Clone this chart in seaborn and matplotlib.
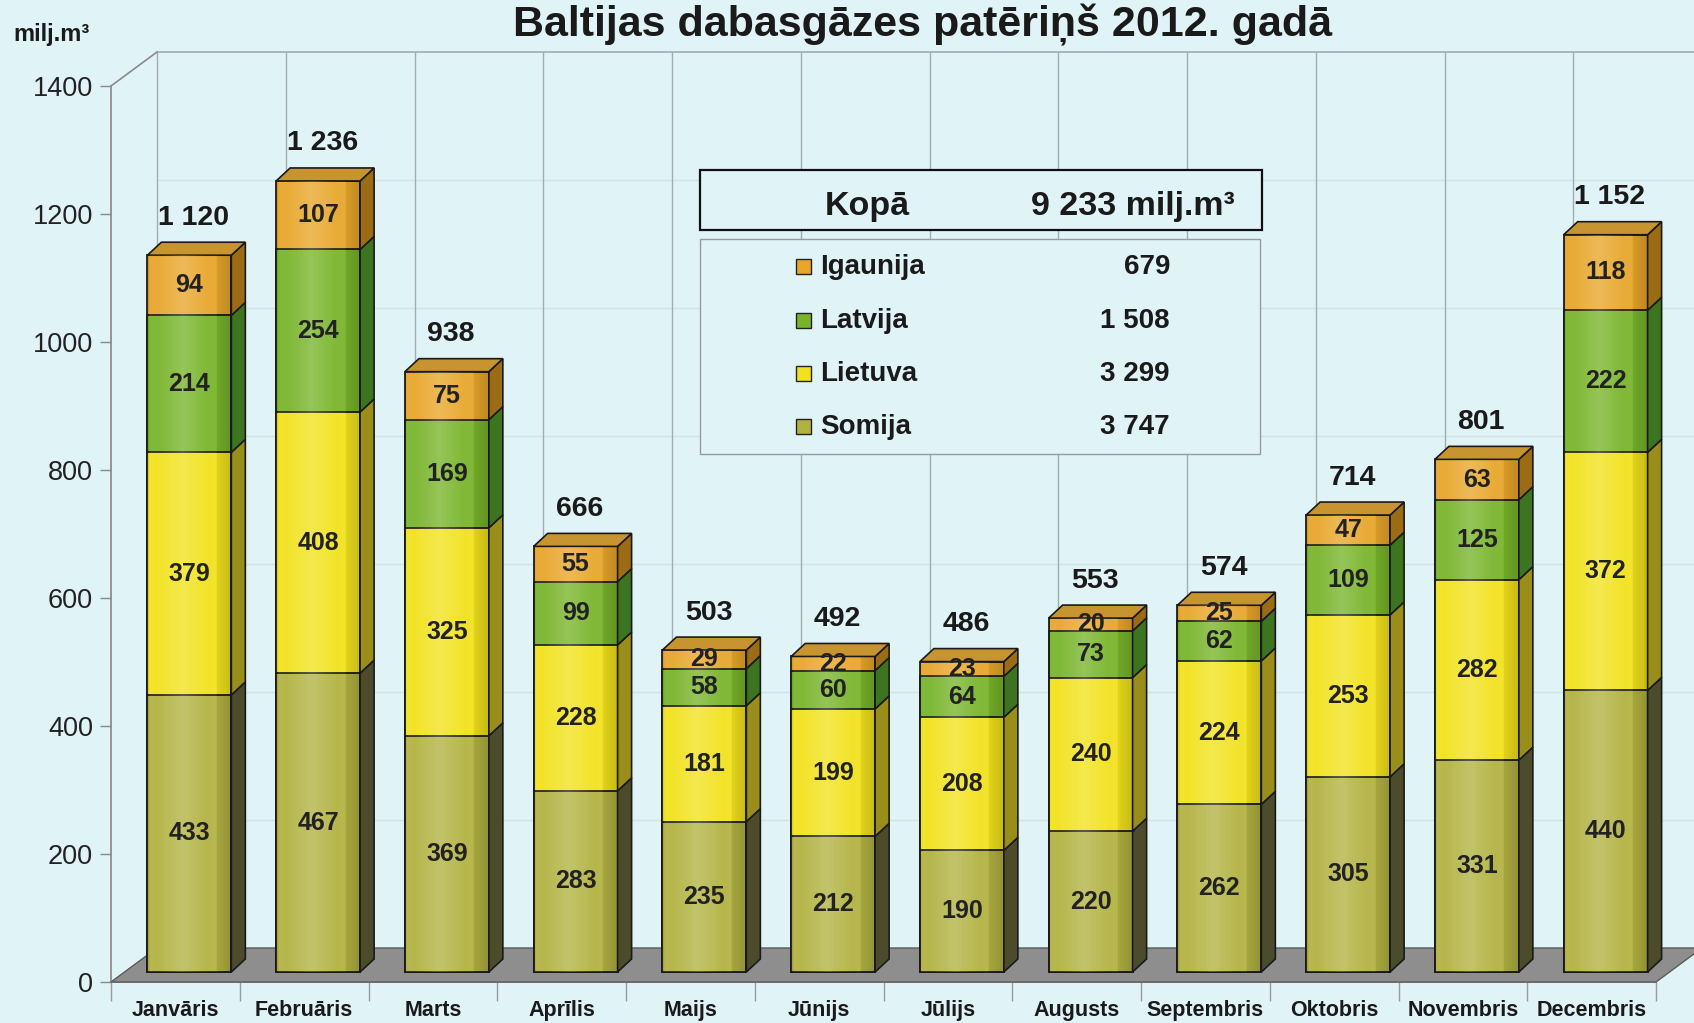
import numpy as np
import pandas as pd
import matplotlib
matplotlib.use("Agg")
import matplotlib.pyplot as plt
import matplotlib.transforms as mtransforms
from matplotlib.patches import Polygon, Rectangle
import seaborn as sns

# ---------------- data ----------------
months = ["Janvāris", "Februāris", "Marts", "Aprīlis", "Maijs", "Jūnijs",
          "Jūlijs", "Augusts", "Septembris", "Oktobris", "Novembris", "Decembris"]
somija = [433, 467, 369, 283, 235, 212, 190, 220, 262, 305, 331, 440]
lietuva = [379, 408, 325, 228, 181, 199, 208, 240, 224, 253, 282, 372]
latvija = [214, 254, 169, 99, 58, 60, 64, 73, 62, 109, 125, 222]
igaunija = [94, 107, 75, 55, 29, 22, 23, 20, 25, 47, 63, 118]
month_totals = [1120, 1236, 938, 666, 503, 492, 486, 553, 574, 714, 801, 1152]
series_names = ["Igaunija", "Latvija", "Lietuva", "Somija"]
series_totals = ["679", "1 508", "3 299", "3 747"]
grand_label = "Kopā"
grand_total = "9 233 milj.m³"
title = "Baltijas dabasgāzes patēriņš 2012. gadā"
unit = "milj.m³"
yticks = [0, 200, 400, 600, 800, 1000, 1200, 1400]

# ---------------- style ----------------
BG = "#E0F3F7"
front = {"Somija": "#B2B242", "Lietuva": "#F2E21C", "Latvija": "#78B42A", "Igaunija": "#E8A62A"}
side = {"Somija": "#4C4C2C", "Lietuva": "#9A8E1A", "Latvija": "#3C7420", "Igaunija": "#9C6C14"}
top_col = "#C89430"
EDGE = "#1a1a1a"

sns.set_theme(style="white")
plt.rcParams["font.family"] = ["Liberation Sans", "DejaVu Sans"]

W, H = 1694, 1023
fig = plt.figure(figsize=(W / 100, H / 100), dpi=100, facecolor=BG)
ax = fig.add_axes([111 / W, (H - 982) / H, (1656 - 111) / W, (982 - 86) / H])
ax.set_facecolor("none")

px_x = 1545 / 12.0     # pixels per category
px_y = 896 / 1400.0    # pixels per unit
bx, by = 46 / px_x, 34 / px_y      # back wall offset (data units)
dx, dy = 14 / px_x, 13 / px_y      # bar depth (data units)
bar_w = 0.652
offset = mtransforms.ScaledTranslation(0.14, 0.10, fig.dpi_scale_trans)
trans = ax.transData + offset

# data frame
df = pd.DataFrame({"month": months, "Somija": somija, "Lietuva": lietuva,
                   "Latvija": latvija, "Igaunija": igaunija})
order_bottom_up = ["Somija", "Lietuva", "Latvija", "Igaunija"]
cum = df[order_bottom_up].cumsum(axis=1)

# floor and wall
floor = Polygon([(-0.5, 0), (11.5, 0), (11.5 + bx, by), (-0.5 + bx, by)],
                closed=True, facecolor="#8E8E8E", edgecolor="#5a5a5a", lw=1,
                clip_on=False, zorder=1)
ax.add_patch(floor)
wall_c = "#A3ACAF"
for k in range(13):
    ax.plot([k - 0.5 + bx, k - 0.5 + bx], [by, 1400 + by], color=wall_c, lw=1,
            clip_on=False, zorder=0.5)
for v in yticks[1:-1]:
    ax.plot([-0.5 + bx, 12.5], [v + by, v + by], color="#CFE3E7", lw=1,
            clip_on=False, zorder=0.4)
ax.plot([-0.5 + bx, 12.5], [1400 + by, 1400 + by], color=wall_c, lw=1.2, clip_on=False, zorder=0.5)
ax.plot([-0.5, -0.5 + bx], [1400, 1400 + by], color="#8a8a8a", lw=1.2, clip_on=False, zorder=0.5)

# stacked bars (overdraw cumulative heights, top layer first)
for name in reversed(order_bottom_up):
    n0 = len(ax.patches)
    layer = pd.DataFrame({"month": months, "value": cum[name]})
    sns.barplot(data=layer, x="month", y="value", color=front[name], saturation=1,
                width=bar_w, edgecolor=EDGE, linewidth=1.3, ax=ax, zorder=3)
    for p in ax.patches[n0:]:
        p.set_transform(trans)

# side faces, top faces, shading
for i in range(len(months)):
    xr = i + bar_w / 2
    xl = i - bar_w / 2
    y0 = 0
    for name in order_bottom_up:
        y1 = cum[name][i]
        ax.add_patch(Polygon([(xr, y0), (xr, y1), (xr + dx, y1 + dy), (xr + dx, y0 + dy)],
                             closed=True, facecolor=side[name], edgecolor=EDGE, lw=1.2,
                             transform=trans, zorder=3, clip_on=False))
        y0 = y1
    T = cum["Igaunija"][i]
    ax.add_patch(Polygon([(xl, T), (xr, T), (xr + dx, T + dy), (xl + dx, T + dy)],
                         closed=True, facecolor=top_col, edgecolor=EDGE, lw=1.2,
                         transform=trans, zorder=3, clip_on=False))
    # cylinder-like shading overlay
    xs = np.linspace(0, 1, 64)
    shade = np.zeros((1, 64, 4))
    light = np.clip(1 - np.abs(xs - 0.42) / 0.42, 0, 1)
    dark = np.clip((np.abs(xs - 0.42) - 0.3) / 0.3, 0, 1)
    shade[0, :, :3] = (light > 0)[:, None] * 1.0
    shade[0, :, 3] = 0.22 * light + 0.18 * dark
    shade[0, light <= 0, :3] = 0.0
    ax.imshow(shade, extent=(xl + 0.004, xr - 0.004, 0.5, T - 0.5), transform=trans,
              aspect="auto", zorder=3.2, interpolation="bilinear", clip_on=False)

# value labels
for i in range(len(months)):
    y0 = 0
    for name in order_bottom_up:
        v = df[name][i]
        ax.text(i, y0 + v / 2, f"{v}", transform=trans, ha="center", va="center",
                fontsize=18, fontweight="bold", color="#222222", zorder=5)
        y0 += v
    ax.annotate(f"{month_totals[i]:,}".replace(",", " "), xy=(i, cum["Igaunija"][i]),
                xycoords=trans, xytext=(3, 27), textcoords="offset points",
                ha="center", va="center", fontsize=20.5, fontweight="bold",
                color="#1a1a1a", zorder=5)

# axes
ax.set_xlim(-0.5, 11.5)
ax.set_ylim(0, 1400)
ax.set_xlabel("")
ax.set_ylabel("")
ax.set_yticks(yticks)
ax.set_yticklabels([str(v) for v in yticks])
ax.set_xticks(range(12))
ax.set_xticklabels(months)
ax.set_xticks(np.arange(-0.5, 12, 1), minor=True)
for s in ["top", "right"]:
    ax.spines[s].set_visible(False)
ax.spines["left"].set_color("#8a8a8a")
ax.spines["bottom"].set_color("#6a6a6a")
ax.tick_params(axis="y", which="major", length=8, width=1, color="#8a8a8a", pad=5,
               labelsize=19.5, labelcolor="#222222", left=True)
ax.tick_params(axis="x", which="major", length=0, pad=13, labelsize=15.5,
               labelcolor="#1a1a1a")
ax.tick_params(axis="x", which="minor", length=14, width=1, color="#9a9a9a", bottom=True)
for lab in ax.get_xticklabels():
    lab.set_fontweight("bold")

# texts
fig.text(922 / W, 1 - 36 / H, title, ha="center", va="baseline", fontsize=31,
         fontweight="bold", color="#1a1a1a")
fig.text(13 / W, 1 - 41 / H, unit, ha="left", va="baseline", fontsize=17,
         fontweight="bold", color="#1a1a1a")

# legend boxes
def fx(x):
    return x / W

def fy(y):
    return 1 - y / H

fig.patches.append(Rectangle((fx(700), fy(230)), 562 / W, 60 / H, transform=fig.transFigure,
                             facecolor=BG, edgecolor="#111111", lw=1.6, zorder=4))
fig.text(fx(867), fy(206), grand_label, ha="center", va="center", fontsize=24.5,
         fontweight="bold", color="#1a1a1a", zorder=6)
fig.text(fx(1235), fy(206), grand_total, ha="right", va="center", fontsize=24.5,
         fontweight="bold", color="#1a1a1a", zorder=6)
fig.patches.append(Rectangle((fx(700), fy(454)), 560 / W, 215 / H, transform=fig.transFigure,
                             facecolor=BG, edgecolor="#9a9a9a", lw=1.0, zorder=4))
rows_y = [267, 321, 374, 427]
for name, tot, yy in zip(series_names, series_totals, rows_y):
    fig.patches.append(Rectangle((fx(796), fy(yy + 7)), 15 / W, 15 / H,
                                 transform=fig.transFigure, facecolor=front[name],
                                 edgecolor="#222222", lw=1.0, zorder=5))
    fig.text(fx(820), fy(yy), name, ha="left", va="center", fontsize=20,
             fontweight="bold", color="#1a1a1a", zorder=6)
    fig.text(fx(1170), fy(yy), tot, ha="right", va="center", fontsize=20,
             fontweight="bold", color="#1a1a1a", zorder=6)

fig.savefig("out.png", dpi=100, facecolor=BG)
